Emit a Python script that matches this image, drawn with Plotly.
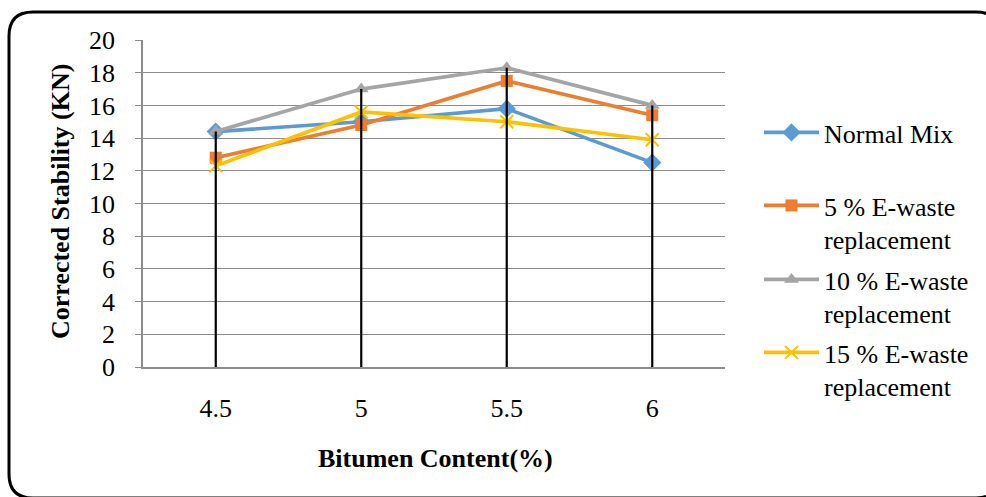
import plotly.graph_objects as go

# Bitumen content categories (%)
bitumen = ["4.5", "5", "5.5", "6"]

# Corrected stability (kN) for each mix
normal_mix = [14.4, 15.0, 15.8, 12.5]
ewaste_5 = [12.8, 14.8, 17.5, 15.4]
ewaste_10 = [14.4, 17.0, 18.3, 16.0]
ewaste_15 = [12.3, 15.6, 15.0, 13.9]

series_names = [
    "Normal Mix",
    "5 % E-waste<br>replacement",
    "10 % E-waste<br>replacement",
    "15 % E-waste<br>replacement",
]
y_ticks = list(range(0, 21, 2))

FONT = "Liberation Serif, Times New Roman, serif"
GRID = "#8c8c8c"

W, H = 986, 497
ML, MR, MT, MB = 143, 261, 40, 130
PW, PH = W - ML - MR, H - MT - MB


def px(x):
    return (x - ML) / PW


def py(y):
    return (H - MB - y) / PH


fig = go.Figure()

styles = [
    dict(color="#5B9BD5", symbol="diamond", size=14),
    dict(color="#ED7D31", symbol="square", size=12),
    dict(color="#A5A5A5", symbol="triangle-up", size=13),
    dict(color="#FFC000", symbol="x-thin", size=13),
]
all_series = [normal_mix, ewaste_5, ewaste_10, ewaste_15]
legend_ids = ["legend", "legend2", "legend3", "legend4"]
legend_tops = [109, 182, 256, 329]

for name, vals, st, lid in zip(series_names, all_series, styles, legend_ids):
    marker = dict(color=st["color"], symbol=st["symbol"], size=st["size"])
    if st["symbol"] == "x-thin":
        marker["line"] = dict(color=st["color"], width=2)
    fig.add_trace(go.Scatter(
        x=bitumen, y=vals, name=name, legend=lid,
        mode="lines+markers",
        line=dict(color=st["color"], width=3.7),
        marker=marker,
    ))

# Drop lines from the highest value in each category down to the axis
drop_x, drop_y = [], []
for i, cat in enumerate(bitumen):
    top = max(s[i] for s in all_series)
    drop_x += [cat, cat, None]
    drop_y += [top, 0, None]
fig.add_trace(go.Scatter(
    x=drop_x, y=drop_y, mode="lines", showlegend=False, hoverinfo="skip",
    line=dict(color="black", width=2.2),
))

# Rounded frame around the chart
L, T, R, B, r = 9, 12, 1000, 498, 24
path = (
    f"M {px(L + r)} {py(T)} L {px(R - r)} {py(T)} "
    f"Q {px(R)} {py(T)} {px(R)} {py(T + r)} "
    f"L {px(R)} {py(B - r)} Q {px(R)} {py(B)} {px(R - r)} {py(B)} "
    f"L {px(L + r)} {py(B)} Q {px(L)} {py(B)} {px(L)} {py(B - r)} "
    f"L {px(L)} {py(T + r)} Q {px(L)} {py(T)} {px(L + r)} {py(T)} Z"
)
fig.add_shape(type="path", path=path, xref="paper", yref="paper",
              line=dict(color="black", width=3), layer="above")

fig.add_annotation(text="<b>Bitumen Content(%)</b>", xref="paper", yref="paper",
                   x=px(435), y=py(458), xanchor="center", yanchor="middle",
                   showarrow=False, font=dict(family=FONT, size=26, color="black"))
fig.add_annotation(text="<b>Corrected Stability (KN)</b>", xref="paper", yref="paper",
                   x=px(60), y=py(202), xanchor="center", yanchor="middle",
                   showarrow=False, textangle=-90,
                   font=dict(family=FONT, size=26, color="black"))

legend_common = dict(
    xanchor="left", yanchor="top", valign="top", itemwidth=55,
    font=dict(family=FONT, size=26, color="black"),
    bgcolor="rgba(0,0,0,0)",
)
legends = {
    lid: dict(x=px(759), y=py(top), **legend_common)
    for lid, top in zip(legend_ids, legend_tops)
}

fig.update_layout(
    width=W, height=H,
    margin=dict(l=ML, r=MR, t=MT, b=MB, autoexpand=False),
    paper_bgcolor="white", plot_bgcolor="white",
    font=dict(family=FONT, size=26, color="black"),
    showlegend=True,
    **legends,
    xaxis=dict(
        type="category", range=[-0.5, 3.5], showgrid=False,
        showline=True, linecolor=GRID, linewidth=1.5, ticks="",
        tickfont=dict(family=FONT, size=26, color="black"),
        ticklabelstandoff=17,
    ),
    yaxis=dict(
        range=[0, 20], tickvals=y_ticks, showgrid=True, gridcolor=GRID, gridwidth=1.2,
        showline=True, linecolor=GRID, linewidth=1.5, zeroline=False,
        ticks="outside", ticklen=6, tickcolor=GRID,
        tickfont=dict(family=FONT, size=26, color="black"),
        ticklabelstandoff=15,
    ),
)

fig.write_html("out.html")
